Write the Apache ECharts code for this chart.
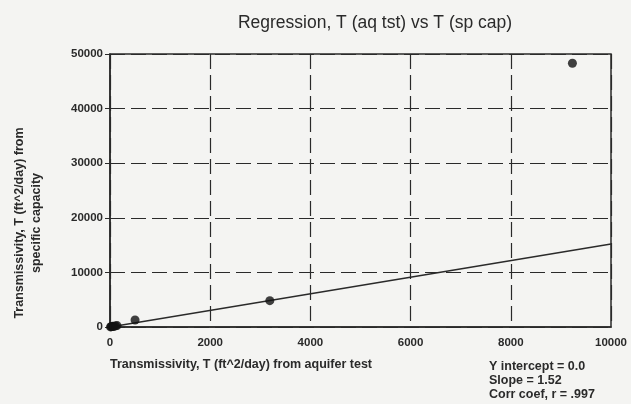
<!DOCTYPE html>
<html><head><meta charset="utf-8">
<script src="https://cdn.jsdelivr.net/npm/echarts@6/dist/echarts.min.js"></script>
<style>html,body{margin:0;padding:0;background:#f4f4f2;}#c{width:631px;height:404px;}</style>
</head><body><div id="c"></div>
<script>
const titleText = 'Regression, T (aq tst) vs T (sp cap)';
const xName = 'Transmissivity, T (ft^2/day) from aquifer test';
const yName = 'Transmissivity, T (ft^2/day) from\nspecific capacity';
const xAquifer = [10, 25, 40, 60, 80, 110, 140, 500, 3190, 9230];
const ySpecCap = [20, 60, 120, 90, 150, 200, 260, 1290, 4830, 48300];
const regX = [0, 10000];
const slope = 1.52;
const intercept = 0.0;
const statsLines = ['Y intercept = 0.0', 'Slope = 1.52', 'Corr coef, r = .997'];

const pts = xAquifer.map((x, i) => [x, ySpecCap[i]]);
const reg = regX.map(x => [x, intercept + slope * x]);
const ink = '#2a2a2a';
const font = '"Liberation Sans", Arial, sans-serif';

const chart = echarts.init(document.getElementById('c'));
chart.setOption({
  backgroundColor: '#f4f4f2',
  animation: false,
  title: { text: titleText, left: 370, top: 9, textAlign: 'center',
    textStyle: { fontFamily: font, fontSize: 17.5, fontWeight: 'normal', color: ink } },
  grid: { left: 110, right: 20, top: 54, bottom: 77 },
  xAxis: {
    type: 'value', min: 0, max: 10000, interval: 2000,
    axisLine: { show: true, lineStyle: { color: ink, width: 1.5 } },
    axisTick: { show: false },
    axisLabel: { color: ink, fontFamily: font, fontSize: 11.5, fontWeight: 'bold', margin: 10, formatter: v => String(v) },
    splitLine: { show: true, lineStyle: { color: ink, type: [15, 6], width: 1.2 } }
  },
  yAxis: {
    type: 'value', min: 0, max: 50000, interval: 10000,
    axisLine: { show: true, lineStyle: { color: ink, width: 1.5 } },
    axisTick: { show: true, length: 5, lineStyle: { color: ink } },
    axisLabel: { color: ink, fontFamily: font, fontSize: 11.5, fontWeight: 'bold', margin: 7, formatter: v => String(v) },
    splitLine: { show: true, lineStyle: { color: ink, type: [15, 6], width: 1.2 } }
  },
  graphic: [
    { type: 'rect', shape: { x: 110, y: 54, width: 501, height: 273 }, style: { fill: 'none', stroke: ink, lineWidth: 1.5 }, silent: true },
    { type: 'text', left: 110, top: 358, style: { text: xName, fill: ink, font: 'bold 12.5px ' + font } },
    { type: 'text', x: 28, y: 223, rotation: Math.PI / 2, style: { text: yName, fill: ink, font: 'bold 12.5px ' + font, textAlign: 'center', textVerticalAlign: 'middle', lineHeight: 17 } },
    { type: 'text', left: 489, top: 360, style: { text: statsLines.join('\n'), fill: ink, font: 'bold 12.5px ' + font, lineHeight: 14 } }
  ],
  series: [
    { type: 'line', data: reg, symbol: 'none', lineStyle: { color: ink, width: 1.3 }, z: 3 },
    { type: 'scatter', data: pts, symbol: 'circle', symbolSize: 9, itemStyle: { color: '#111' }, z: 4 }
  ]
});
</script></body></html>
